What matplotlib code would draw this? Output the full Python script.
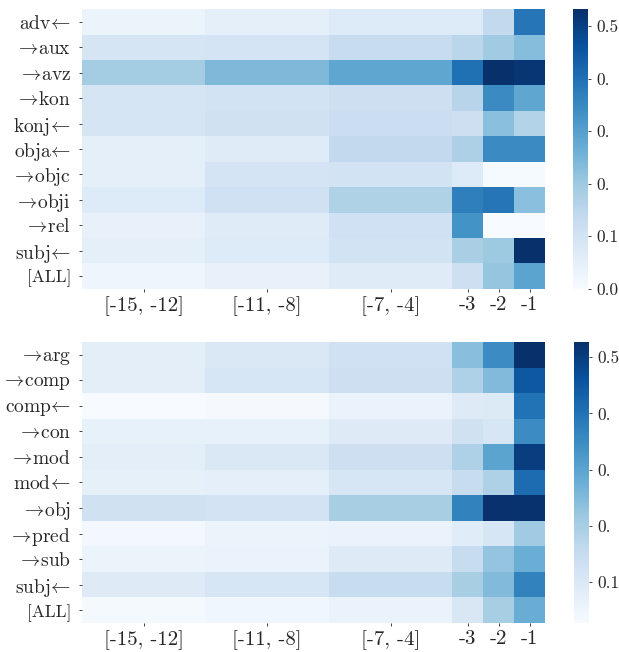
import numpy as np
import matplotlib
matplotlib.use('Agg')
import matplotlib.pyplot as plt

plt.rcParams['font.family'] = ['cmr10', 'DejaVu Serif']
plt.rcParams['mathtext.fontset'] = 'cm'
plt.rcParams['axes.unicode_minus'] = False

col_labels = ['[-15, -12]', '[-11, -8]', '[-7, -4]', '-3', '-2', '-1']
col_widths = [4, 4, 4, 1, 1, 1]

top_rows = [r'adv$\!\leftarrow$', r'$\rightarrow\!$aux', r'$\rightarrow\!$avz', r'$\rightarrow\!$kon',
            r'konj$\!\leftarrow$', r'obja$\!\leftarrow$', r'$\rightarrow\!$objc', r'$\rightarrow\!$obji',
            r'$\rightarrow\!$rel', r'subj$\!\leftarrow$', '[ALL]']
top_vals = [
    [0.030, 0.050, 0.070, 0.070, 0.140, 0.390],
    [0.090, 0.095, 0.130, 0.155, 0.195, 0.230],
    [0.190, 0.240, 0.285, 0.400, 0.532, 0.520],
    [0.090, 0.100, 0.115, 0.160, 0.345, 0.285],
    [0.090, 0.105, 0.120, 0.115, 0.225, 0.165],
    [0.050, 0.065, 0.140, 0.175, 0.345, 0.345],
    [0.050, 0.095, 0.100, 0.070, 0.005, 0.005],
    [0.070, 0.110, 0.170, 0.370, 0.390, 0.225],
    [0.040, 0.065, 0.110, 0.330, 0.000, 0.002],
    [0.050, 0.070, 0.100, 0.180, 0.200, 0.530],
    [0.025, 0.040, 0.065, 0.115, 0.210, 0.290],
]

bottom_rows = [r'$\rightarrow\!$arg', r'$\rightarrow\!$comp', r'comp$\!\leftarrow$', r'$\rightarrow\!$con',
               r'$\rightarrow\!$mod', r'mod$\!\leftarrow$', r'$\rightarrow\!$obj', r'$\rightarrow\!$pred',
               r'$\rightarrow\!$sub', r'subj$\!\leftarrow$', '[ALL]']
bottom_vals = [
    [0.077, 0.100, 0.130, 0.240, 0.350, 0.527],
    [0.077, 0.110, 0.135, 0.190, 0.250, 0.450],
    [0.027, 0.033, 0.060, 0.090, 0.095, 0.400],
    [0.067, 0.068, 0.090, 0.125, 0.110, 0.350],
    [0.077, 0.100, 0.135, 0.190, 0.300, 0.500],
    [0.070, 0.072, 0.110, 0.150, 0.190, 0.410],
    [0.125, 0.120, 0.200, 0.370, 0.525, 0.522],
    [0.040, 0.055, 0.060, 0.085, 0.110, 0.210],
    [0.055, 0.060, 0.090, 0.150, 0.227, 0.277],
    [0.090, 0.110, 0.150, 0.200, 0.250, 0.370],
    [0.035, 0.045, 0.060, 0.105, 0.200, 0.280],
]

cbar_ticks = [0.0, 0.1, 0.2, 0.3, 0.4, 0.5]
cbar_ticklabels = ['0.0', '0.1', '0.', '0.', '0.', '0.5']

text_color = '#262626'


def draw_panel(ax, cax, rows, vals):
    vals = np.array(vals)
    edges = np.concatenate([[0], np.cumsum(col_widths)])
    centers = (edges[:-1] + edges[1:]) / 2
    y_edges = np.arange(len(rows) + 1)
    mesh = ax.pcolormesh(edges, y_edges, vals, cmap='Blues',
                         vmin=vals.min(), vmax=vals.max(), shading='flat')
    ax.set_xlim(edges[0], edges[-1])
    ax.set_ylim(len(rows), 0)
    ax.set_xticks(centers)
    ax.set_xticklabels(col_labels, fontsize=15, color=text_color)
    ax.set_yticks(np.arange(len(rows)) + 0.5)
    ax.set_yticklabels(rows, fontsize=14, color=text_color)
    ax.get_yticklabels()[-1].set_fontsize(12.5)
    for s in ax.spines.values():
        s.set_visible(False)
    ax.tick_params(axis='y', length=2, width=0.6, color=text_color, pad=6)
    ax.tick_params(axis='x', length=2, width=0.6, color=text_color, pad=3)

    cb = plt.colorbar(mesh, cax=cax)
    cb.outline.set_visible(False)
    ticks = [t for t in cbar_ticks if vals.min() <= t <= vals.max()]
    cb.set_ticks(ticks)
    cb.set_ticklabels([cbar_ticklabels[cbar_ticks.index(t)] for t in ticks])
    cax.tick_params(length=2, width=0.6, color=text_color, labelsize=12.5,
                    labelcolor=text_color, pad=4)


fig = plt.figure(figsize=(6.19, 6.52), dpi=100)
ax1 = fig.add_axes([0.1325, 0.557, 0.748, 0.429])
cax1 = fig.add_axes([0.9257, 0.557, 0.0245, 0.429])
ax2 = fig.add_axes([0.1325, 0.0445, 0.748, 0.431])
cax2 = fig.add_axes([0.9273, 0.0445, 0.0245, 0.431])

draw_panel(ax1, cax1, top_rows, top_vals)
draw_panel(ax2, cax2, bottom_rows, bottom_vals)

plt.savefig('out.png', dpi=100)
plt.close()
